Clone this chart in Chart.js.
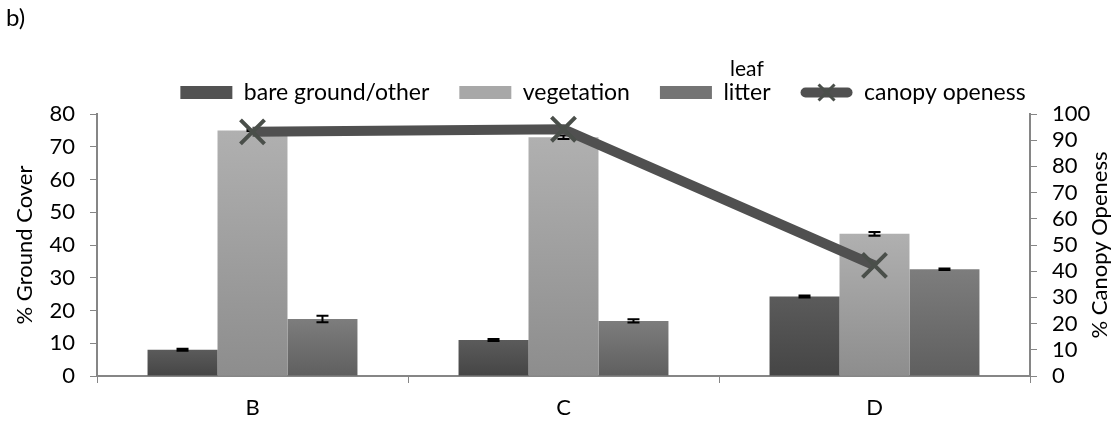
<!DOCTYPE html>
<html>
<head>
<meta charset="utf-8">
<script src="https://cdn.jsdelivr.net/npm/chart.js@4.4.1/dist/chart.umd.min.js"></script>
<style>
  html, body { margin: 0; padding: 0; background: #fff; }
  #wrap { position: relative; width: 1118px; height: 439px; }
  #panel { position: absolute; left: 6px; top: 2px; font: 24px Lato, sans-serif; color: #000; }
</style>
</head>
<body>
<div id="wrap">
  <div id="panel">b)</div>
  <canvas id="chartCanvas"></canvas>
</div>
<script>
// --- data ---
const sites = ["B", "C", "D"];
const bareGround = [8.0, 11.0, 24.3];
const bareGroundErr = [0.3, 0.3, 0.3];
const vegetation = [75.0, 72.9, 43.4];
const vegetationErr = [0.2, 0.5, 0.6];
const leafLitter = [17.4, 16.8, 32.6];
const leafLitterErr = [1.0, 0.5, 0.2];
const canopyOpeness = [93.2, 94.2, 42.2];

const FONT = "Lato, 'Open Sans', sans-serif";
const AXIS = "#868686";
const LINE = "#505050";

// vertical shading for each bar, light at the top
function shade(top, bottom) {
  return ctx => {
    const chart = ctx.chart;
    const area = chart.chartArea;
    if (!area || ctx.raw === undefined) return bottom;
    const y0 = chart.scales.y.getPixelForValue(ctx.raw);
    const g = chart.ctx.createLinearGradient(0, y0, 0, area.bottom);
    g.addColorStop(0, top);
    g.addColorStop(1, bottom);
    return g;
  };
}

// black error whiskers on the bars
const errorBars = {
  id: "errorBars",
  afterDatasetDraw(chart, args) {
    const ds = chart.data.datasets[args.index];
    if (!ds.errors) return;
    const y = chart.scales.y;
    const c = chart.ctx;
    c.save();
    c.strokeStyle = "#000";
    c.lineWidth = 2;
    args.meta.data.forEach((bar, i) => {
      const hi = y.getPixelForValue(ds.data[i] + ds.errors[i]);
      const lo = y.getPixelForValue(ds.data[i] - ds.errors[i]);
      c.beginPath();
      c.moveTo(bar.x, hi); c.lineTo(bar.x, lo);
      c.moveTo(bar.x - 6, hi); c.lineTo(bar.x + 6, hi);
      c.moveTo(bar.x - 6, lo); c.lineTo(bar.x + 6, lo);
      c.stroke();
    });
    c.restore();
  }
};

// legend tweaks: shift, line swatch with cross, "leaf" above "litter", right axis title
const extras = {
  id: "extras",
  afterUpdate(chart) {
    const lg = chart.legend;
    const dx = 44;
    lg.left += dx; lg.right += dx;
    lg.legendHitBoxes.forEach(h => { h.left += dx; });
  },
  afterDraw(chart) {
    const c = chart.ctx;
    const lg = chart.legend;
    const boxW = lg.options.labels.boxWidth;
    const hbLitter = lg.legendHitBoxes[2];
    const hbCanopy = lg.legendHitBoxes[3];
    c.save();
    c.font = "21px " + FONT;
    c.fillStyle = "#000";
    c.textAlign = "center";
    c.textBaseline = "middle";
    c.fillText("leaf", hbLitter.left + boxW + 11 + 24, hbLitter.top + hbLitter.height / 2 - 23);

    const cy = hbCanopy.top + hbCanopy.height / 2;
    const x0 = hbCanopy.left + 5, x1 = hbCanopy.left + boxW - 5;
    c.strokeStyle = LINE;
    c.lineWidth = 10;
    c.lineCap = "round";
    c.beginPath(); c.moveTo(x0, cy); c.lineTo(x1, cy); c.stroke();
    const mx = (x0 + x1) / 2;
    c.lineWidth = 3;
    c.lineCap = "butt";
    c.strokeStyle = "#4a4f4a";
    c.beginPath();
    c.moveTo(mx - 8, cy - 8); c.lineTo(mx + 8, cy + 8);
    c.moveTo(mx - 8, cy + 8); c.lineTo(mx + 8, cy - 8);
    c.stroke();

    const area = chart.chartArea;
    c.translate(1100, (area.top + area.bottom) / 2);
    c.rotate(-Math.PI / 2);
    c.font = "22px " + FONT;
    c.fillText("% Canopy Openess", 0, 0);
    c.restore();
  }
};

const canvas = document.getElementById("chartCanvas");
canvas.parentNode.style.height = "439px";

new Chart(canvas, {
  type: "bar",
  data: {
    labels: sites,
    datasets: [
      {
        label: "bare ground/other",
        data: bareGround,
        errors: bareGroundErr,
        backgroundColor: shade("#5b5b5b", "#454545"),
        legendColor: "#525252",
        order: 1
      },
      {
        label: "vegetation",
        data: vegetation,
        errors: vegetationErr,
        backgroundColor: shade("#b0b0b0", "#8d8d8d"),
        legendColor: "#a8a8a8",
        order: 1
      },
      {
        label: "litter",
        data: leafLitter,
        errors: leafLitterErr,
        backgroundColor: shade("#7d7d7d", "#5f5f5f"),
        legendColor: "#747474",
        order: 1
      },
      {
        type: "line",
        label: "canopy openess",
        data: canopyOpeness,
        yAxisID: "y1",
        borderColor: LINE,
        borderWidth: 10,
        tension: 0,
        pointStyle: "crossRot",
        pointRadius: 17,
        pointBorderWidth: 4,
        pointBorderColor: "#4a4f4a",
        pointBackgroundColor: "#4a4f4a",
        legendColor: "rgba(0,0,0,0)",
        order: 0
      }
    ]
  },
  options: {
    responsive: true,
    maintainAspectRatio: false,
    animation: false,
    layout: { padding: { top: 51, left: 0, right: 0, bottom: 0 } },
    datasets: { bar: { categoryPercentage: 0.675, barPercentage: 1.0 } },
    plugins: {
      tooltip: { enabled: false },
      legend: {
        position: "top",
        labels: {
          boxWidth: 52,
          boxHeight: 13,
          padding: 30,
          color: "#000",
          font: { family: FONT, size: 23 },
          generateLabels(chart) {
            return chart.data.datasets.map((ds, i) => ({
              text: ds.label,
              fillStyle: ds.legendColor,
              strokeStyle: ds.legendColor,
              lineWidth: 0,
              hidden: false,
              datasetIndex: i
            }));
          }
        }
      }
    },
    scales: {
      x: {
        grid: { display: true, drawOnChartArea: false, drawTicks: true, tickLength: 7, color: AXIS, offset: true },
        border: { color: AXIS, width: 2 },
        ticks: { color: "#000", font: { family: FONT, size: 22 }, padding: 12 },
        afterFit(s) { s.height = 63; }
      },
      y: {
        min: 0,
        max: 80,
        ticks: { stepSize: 10, autoSkip: false, color: "#000", font: { family: FONT, size: 22 }, padding: 15 },
        grid: { display: true, drawOnChartArea: false, drawTicks: true, tickLength: 7, color: AXIS },
        border: { color: AXIS, width: 2 },
        title: { display: true, text: "% Ground Cover", color: "#000", font: { family: FONT, size: 22 }, padding: { top: 12 } },
        afterFit(s) { s.width = 97; }
      },
      y1: {
        position: "right",
        min: 0,
        max: 100,
        ticks: { stepSize: 10, autoSkip: false, color: "#000", font: { family: FONT, size: 22 }, padding: 15 },
        grid: { display: true, drawOnChartArea: false, drawTicks: true, tickLength: 7, color: AXIS },
        border: { color: AXIS, width: 2 },
        afterFit(s) { s.width = 88; }
      }
    }
  },
  plugins: [errorBars, extras]
});
</script>
</body>
</html>
